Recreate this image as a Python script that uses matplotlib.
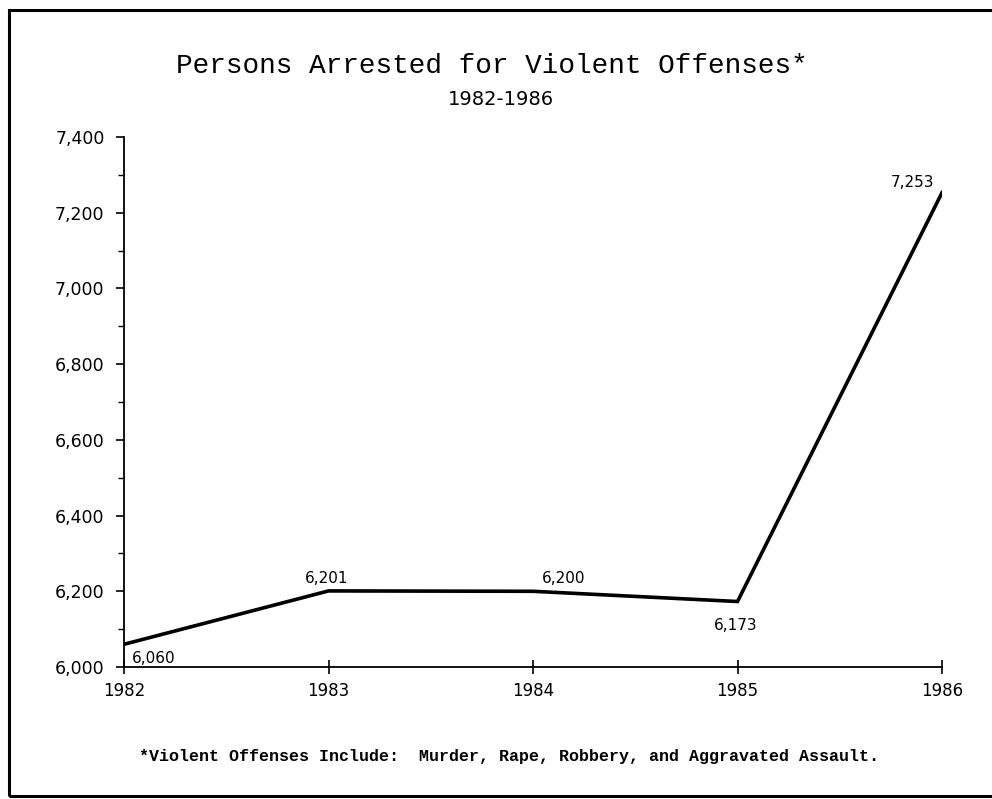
import matplotlib
matplotlib.use("Agg")
import matplotlib.pyplot as plt
from matplotlib.ticker import MultipleLocator, FuncFormatter
from matplotlib.patches import Rectangle

years = [1982, 1983, 1984, 1985, 1986]
arrests = [6060, 6201, 6200, 6173, 7253]
value_labels = ["6,060", "6,201", "6,200", "6,173", "7,253"]
# label offsets in points (dx, dy) and horizontal alignment
label_offsets = [(6, -10, "left"), (-1, 9, "center"), (22, 9, "center"), (-1, -17, "center"), (-21, 7, "center")]

fig = plt.figure(figsize=(9.92, 7.99), dpi=100)
ax = fig.add_axes([0.125, 0.1652, 0.8246, 0.6633])

ax.plot(years, arrests, color="black", lw=2.6, solid_joinstyle="miter")

for x, y, lab, (dx, dy, ha) in zip(years, arrests, value_labels, label_offsets):
    ax.annotate(lab, (x, y), xytext=(dx, dy), textcoords="offset points",
                ha=ha, va="center", fontsize=11, family="DejaVu Sans")

ax.set_xlim(1982, 1986)
ax.set_ylim(6000, 7400)
ax.set_xticks(years)
ax.yaxis.set_major_locator(MultipleLocator(200))
ax.yaxis.set_minor_locator(MultipleLocator(100))
ax.yaxis.set_major_formatter(FuncFormatter(lambda v, p: f"{int(v):,}"))

for side in ("top", "right"):
    ax.spines[side].set_visible(False)
for side in ("left", "bottom"):
    ax.spines[side].set_linewidth(1.3)

ax.tick_params(axis="y", which="major", length=6, width=1.2, direction="out", labelsize=12.5, pad=8)
ax.tick_params(axis="y", which="minor", length=4, width=1.0, direction="out")
ax.tick_params(axis="x", length=10, width=1.2, direction="inout", labelsize=12, pad=6)

fig.text(0.496, 0.917, "Persons Arrested for Violent Offenses*", ha="center", va="center",
         fontsize=20, family="Liberation Mono")
fig.text(0.505, 0.875, "1982-1986", ha="center", va="center", fontsize=14, family="DejaVu Sans")
fig.text(0.513, 0.053, "*Violent Offenses Include:  Murder, Rape, Robbery, and Aggravated Assault.",
         ha="center", va="center", fontsize=12, family="Liberation Mono", weight="bold")

# page border
fig.patches.append(Rectangle((0.009, 0.004), 1.2, 0.984, transform=fig.transFigure,
                             fill=False, ec="black", lw=2.2))

fig.savefig("out.png", dpi=100, facecolor="white")
